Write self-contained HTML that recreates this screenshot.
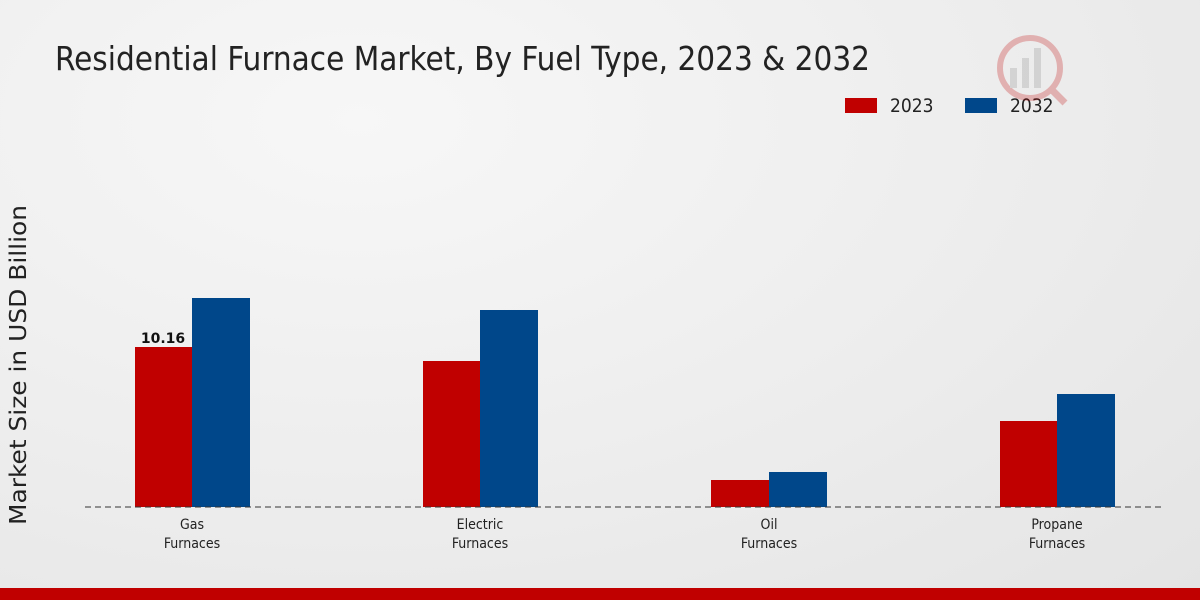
<!DOCTYPE html>
<html><head><meta charset="utf-8"><style>
body{margin:0;width:1200px;height:600px;overflow:hidden;background:radial-gradient(ellipse at 30% 20%,#f7f7f7 0%,#ececec 60%,#e4e4e4 100%);font-family:"DejaVu Sans Condensed","DejaVu Sans",sans-serif;position:relative}
</style></head><body>
<svg width="1200" height="600" style="position:absolute;left:0;top:0" font-family="DejaVu Sans Condensed, DejaVu Sans, sans-serif">
<text x="55" y="70" font-size="33" fill="#222" textLength="815" lengthAdjust="spacingAndGlyphs">Residential Furnace Market, By Fuel Type, 2023 &amp; 2032</text>
<rect x="845" y="98" width="32" height="15" fill="#c00000"/>
<text x="890" y="112" font-size="19" fill="#222">2023</text>
<rect x="965" y="98" width="32" height="15" fill="#00478a"/>
<text x="1010" y="112" font-size="19" fill="#222">2032</text>
<text transform="translate(26,365) rotate(-90)" text-anchor="middle" font-size="23" fill="#222" font-family="DejaVu Sans, sans-serif" textLength="320" lengthAdjust="spacingAndGlyphs">Market Size in USD Billion</text>
<rect x="135" y="347" width="57" height="160" fill="#c00000"/>
<rect x="192" y="298" width="58" height="209" fill="#00478a"/>
<rect x="423" y="361" width="57" height="146" fill="#c00000"/>
<rect x="480" y="310" width="58" height="197" fill="#00478a"/>
<rect x="711" y="480" width="58" height="27" fill="#c00000"/>
<rect x="769" y="472" width="58" height="35" fill="#00478a"/>
<rect x="1000" y="421" width="57" height="86" fill="#c00000"/>
<rect x="1057" y="394" width="58" height="113" fill="#00478a"/>
<line x1="85" y1="507" x2="1165" y2="507" stroke="#333" stroke-dasharray="6,4" stroke-width="1"/>
<text x="163" y="343" text-anchor="middle" font-size="14" font-weight="bold" fill="#111" font-family="DejaVu Sans, sans-serif">10.16</text>
<g font-size="14" fill="#222" text-anchor="middle">
<text x="192" y="529">Gas</text><text x="192" y="548">Furnaces</text>
<text x="480" y="529">Electric</text><text x="480" y="548">Furnaces</text>
<text x="769" y="529">Oil</text><text x="769" y="548">Furnaces</text>
<text x="1057" y="529">Propane</text><text x="1057" y="548">Furnaces</text>
</g>
<g opacity="0.25">
<circle cx="1030" cy="68" r="30" fill="none" stroke="#c00000" stroke-width="6"/>
<rect x="1010" y="68" width="7" height="20" fill="#888"/><rect x="1022" y="58" width="7" height="30" fill="#888"/><rect x="1034" y="48" width="7" height="40" fill="#888"/>
<line x1="1050" y1="88" x2="1065" y2="103" stroke="#c00000" stroke-width="7"/>
</g>
<rect x="0" y="588" width="1200" height="12" fill="#c00000"/>
</svg>
</body></html>
